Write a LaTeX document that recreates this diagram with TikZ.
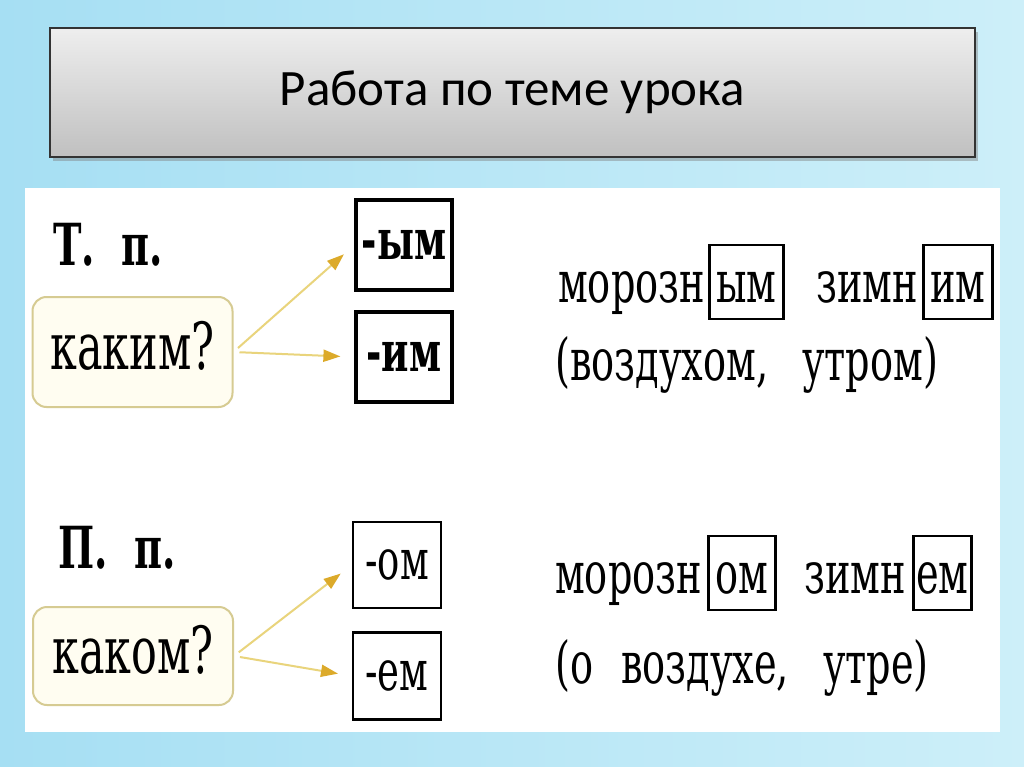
\documentclass[tikz,border=0pt]{standalone}
\usepackage{fontspec}
\setmainfont{DejaVu Serif}
\newfontfamily\titlefont{Carlito}
\newfontfamily\bookfont[FakeStretch=0.66]{DejaVu Serif}
\usetikzlibrary{arrows.meta,shadows,positioning}

\definecolor{skyleft}{HTML}{A6DFF3}
\definecolor{skymid}{HTML}{EEF9FD}
\definecolor{skyright}{HTML}{CDEFF9}
\definecolor{titletop}{HTML}{EEEEEE}
\definecolor{titlebot}{HTML}{C0C0C0}
\definecolor{qborder}{HTML}{D6CB92}
\definecolor{qfill}{HTML}{FFFDF1}
\definecolor{arrowline}{HTML}{E9D47C}
\definecolor{arrowhead}{HTML}{DCAA2A}

\newcommand{\wordfont}{\bookfont\fontsize{58}{64}\selectfont}
\newcommand{\askfont}{\bookfont\fontsize{65}{72}\selectfont}
\newcommand{\sufffont}{\bookfont\fontsize{56}{62}\selectfont}

\begin{document}
\begin{tikzpicture}[x=1pt,y=-1pt,>=stealth]
  \tikzstyle{titlebox}=[draw=black!80, line width=1.5pt, top color=titletop, bottom color=titlebot,
    minimum width=925pt, minimum height=129pt, drop shadow={shadow xshift=3pt, shadow yshift=-4pt, opacity=0.45},
    font=\titlefont\fontsize{51}{60}\selectfont]
  \tikzstyle{casename}=[inner sep=0pt, anchor=base west, font=\wordfont\bfseries]
  \tikzstyle{question}=[draw=qborder, fill=qfill, line width=2pt, rounded corners=14pt, minimum width=200pt,
    text height=34pt, text depth=0pt, font=\askfont]
  \tikzstyle{suffix}=[draw, line width=3.2pt, text height=29pt, text depth=0pt, font=\sufffont\bfseries]
  \tikzstyle{word}=[inner sep=0pt, anchor=base west, font=\wordfont]
  \tikzstyle{ending}=[draw, line width=2.6pt, inner xsep=0pt, inner ysep=0pt, anchor=base west,
    text height=57pt, text depth=17pt, font=\wordfont]
  \tikzstyle{hint}=[-{Triangle[length=17pt,width=12pt,color=arrowhead]}, draw=arrowline, line width=2pt,
    shorten >=14pt, shorten <=6pt]

  % background and panels
  \useasboundingbox (0,0) rectangle (1024,767);
  \shade[left color=skyleft, middle color=skymid, right color=skyright] (0,0) rectangle (1024,767);
  \fill[white] (25,188) rectangle (1000,732);
  \node[titlebox] (title) at (512.5,92.5) {Работа по теме урока};

  % instrumental case
  \node[casename] (tp) at (53,265) {Т.\ \ п.};
  \node[question, minimum height=110pt] (kakim) at (132.5,352) {каким?};
  \node[suffix, minimum width=96pt, minimum height=90pt] (ym) at (404,245) {-ым};
  \node[suffix, minimum width=96pt, minimum height=90pt] (im) at (404,357) {-им};
  \draw[hint] (kakim.east) -- (ym.west);
  \draw[hint] (kakim.east) -- (im.west);

  \node[word] (morozT) at (558,302) {морозн};
  \node[ending, minimum width=74pt] (ymT) at ([xshift=3pt]morozT.base east) {ым};
  \node[word] (zimT) at (816,302) {зимн};
  \node[ending, minimum width=69pt] (imT) at ([xshift=4pt]zimT.base east) {им};
  \node[word] (exT) at (555,380) {(воздухом,\hspace{34pt}утром)};

  % prepositional case
  \node[casename] (pp) at (58,568) {П.\ \ п.};
  \node[question, minimum height=98pt] (kakom) at (133,656) {каком?};
  \node[suffix, line width=2.4pt, font=\sufffont, minimum width=88pt, minimum height=86pt] (om) at (397,565) {-ом};
  \node[suffix, line width=2.4pt, font=\sufffont, minimum width=88pt, minimum height=87pt] (em) at (397,676) {-ем};
  \draw[hint] (kakom.east) -- (om.west);
  \draw[hint] (kakom.east) -- (em.west);

  \node[word] (morozP) at (555,593) {морозн};
  \node[ending, minimum width=67pt] (omP) at ([xshift=5pt]morozP.base east) {ом};
  \node[word] (zimP) at (804,593) {зимн};
  \node[ending, minimum width=58pt] (emP) at ([xshift=6pt]zimP.base east) {ем};
  \node[word] (exP) at (555,683) {(о\hspace{28pt}воздухе,\hspace{34pt}утре)};
\end{tikzpicture}
\end{document}
